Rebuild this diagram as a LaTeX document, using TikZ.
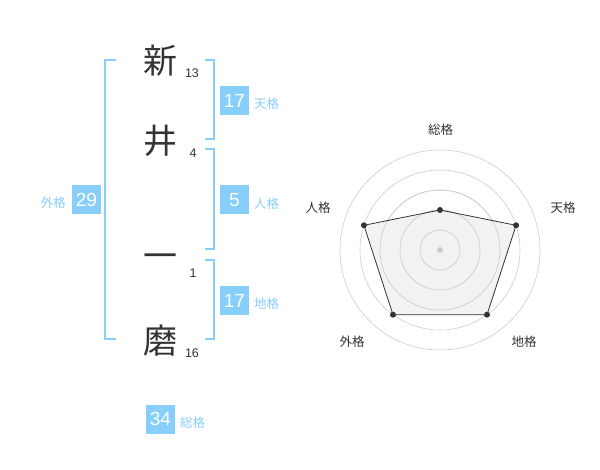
\documentclass[tikz,border=0pt]{standalone}
\usepackage{fontspec}
\usetikzlibrary{calc}
\setmainfont{Liberation Sans}
\newfontfamily\jp{Noto Sans CJK JP}
\definecolor{sky}{HTML}{87CEFA}
\definecolor{ink}{HTML}{333333}
\definecolor{ring}{HTML}{CCCCCC}
\definecolor{fillg}{HTML}{F0F0F0}
\begin{document}
\begin{tikzpicture}[x=1pt,y=-1pt,
  kanji/.style={font=\jp\fontsize{34}{34}\selectfont,text=ink,inner sep=0pt},
  strokes/.style={font=\fontsize{12.5}{12.5}\selectfont,text=ink,inner sep=0pt},
  bracket/.style={draw=sky,line width=1.6pt},
  numbox/.style={fill=sky,text=white,minimum width=29pt,minimum height=29pt,inner sep=0pt,font=\fontsize{19}{19}\selectfont},
  kaku/.style={text=sky,font=\jp\fontsize{12.5}{12.5}\selectfont,inner sep=0pt},
  rlabel/.style={text=ink,font=\jp\fontsize{12.5}{12.5}\selectfont,inner sep=0pt},
  dot/.style={circle,fill=ink,inner sep=0pt,minimum size=6pt}]
\useasboundingbox (0,0) rectangle (600,470);
% characters
\node[kanji] (c1) at (160,61) {新};
\node[kanji] (c2) at (160,141) {井};
\node[kanji] (c3) at (160,261) {一};
\node[kanji] (c4) at (160,341) {磨};
\node[strokes] (s1) at (192,73) {13};
\node[strokes] (s2) at (193,153) {4};
\node[strokes] (s3) at (193,273) {1};
\node[strokes] (s4) at (192,353) {16};
% brackets
\draw[bracket] (116,60) -- (105,60) -- (105,339) -- (116,339);
\draw[bracket] (205,60) -- (214,60) -- (214,139) -- (205,139);
\draw[bracket] (205,149) -- (214,149) -- (214,249) -- (205,249);
\draw[bracket] (205,260) -- (214,260) -- (214,339) -- (205,339);
% boxes
\node[numbox] (ten) at (234.5,100.5) {17};
\node[kaku,anchor=west] (tenl) at (254,104) {天格};
\node[numbox] (jin) at (234.5,200) {5};
\node[kaku,anchor=west] (jinl) at (254,204) {人格};
\node[numbox] (chi) at (234.5,300.5) {17};
\node[kaku,anchor=west] (chil) at (254,304) {地格};
\node[numbox] (gai) at (86.5,200) {29};
\node[kaku,anchor=east] (gail) at (66,203) {外格};
\node[numbox] (so) at (160.5,419) {34};
\node[kaku,anchor=west] (sol) at (180,423) {総格};
% radar
\coordinate (O) at (440,250);
\foreach \r in {20,40,60,80,100} \draw[ring,line width=0.6pt] (O) circle[radius=\r];
\coordinate (pS) at ($(O)+(0,-40)$);
\coordinate (pT) at ($(O)+(76.1,-24.7)$);
\coordinate (pC) at ($(O)+(47,64.7)$);
\coordinate (pG) at ($(O)+(-47,64.7)$);
\coordinate (pJ) at ($(O)+(-76.1,-24.7)$);
\fill[fillg,opacity=0.85] (pS) -- (pT) -- (pC) -- (pG) -- (pJ) -- cycle;
\foreach \r in {20,40,60} \draw[ring,line width=0.6pt] (O) circle[radius=\r];
\draw[ink,line width=0.8pt] (pS) -- (pT) -- (pC) -- (pG) -- (pJ) -- cycle;
\node[circle,fill=ring,inner sep=0pt,minimum size=6pt] (ctr) at (O) {};
\foreach \p in {pS,pT,pC,pG,pJ} \node[dot] at (\p) {};
\node[rlabel] (lS) at (440.7,130) {総格};
\node[rlabel] (lT) at (563,208) {天格};
\node[rlabel] (lJ) at (318,208) {人格};
\node[rlabel] (lG) at (352,342) {外格};
\node[rlabel] (lC) at (524,342) {地格};
\end{tikzpicture}
\end{document}
